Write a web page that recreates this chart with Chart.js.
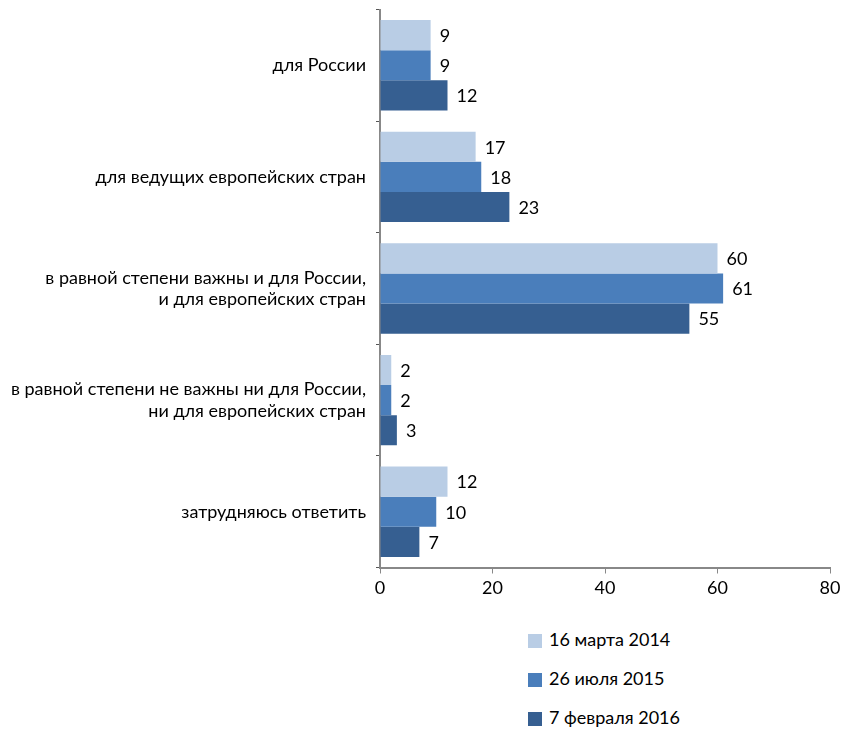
<!DOCTYPE html>
<html>
<head>
<meta charset="utf-8">
<script src="https://cdn.jsdelivr.net/npm/chart.js@4"></script>
<style>
  body { margin: 0; background: #fff; font-family: Lato, sans-serif; }
  #wrap { position: relative; width: 845px; height: 610px; }
  #legend { position: absolute; left: 528px; top: 628px; font-size: 18px; color: #000; }
  #legend div { height: 39px; display: flex; align-items: flex-start; }
  #legend span.box { display: inline-block; width: 14px; height: 14px; margin: 6px 7px 0 0; }
</style>
</head>
<body>
<div id="wrap"><canvas id="chart"></canvas></div>
<div id="legend"></div>
<script>
var categories = [
    'для России',
    'для ведущих европейских стран',
    ['в равной степени важны и для России,', 'и для европейских стран'],
    ['в равной степени не важны ни для России,', 'ни для европейских стран'],
    'затрудняюсь ответить'
];
var seriesNames = ['16 марта 2014', '26 июля 2015', '7 февраля 2016'];
var march2014 = [9, 17, 60, 2, 12];
var july2015 = [9, 18, 61, 2, 10];
var feb2016 = [12, 23, 55, 3, 7];
var xTicks = [0, 20, 40, 60, 80];
var colors = ['#b9cde5', '#4a7ebb', '#365f91'];

var valueLabels = {
    id: 'valueLabels',
    afterDatasetsDraw: function(chart){
        var ctx = chart.ctx;
        ctx.save();
        ctx.font = '18px Lato';
        ctx.fillStyle = '#000';
        ctx.textBaseline = 'middle';
        chart.data.datasets.forEach(function(ds, i){
            chart.getDatasetMeta(i).data.forEach(function(bar, j){
                ctx.fillText(ds.data[j], bar.x + 9, bar.y + 1);
            });
        });
        ctx.restore();
    }
};

var chart = new Chart(document.getElementById('chart'), {
    type: 'bar',
    data: {
        labels: categories,
        datasets: [
            {label: seriesNames[0], data: march2014, backgroundColor: colors[0]},
            {label: seriesNames[1], data: july2015, backgroundColor: colors[1]},
            {label: seriesNames[2], data: feb2016, backgroundColor: colors[2]}
        ]
    },
    options: {
        indexAxis: 'y',
        responsive: true,
        maintainAspectRatio: false,
        animation: false,
        categoryPercentage: 0.81,
        barPercentage: 1,
        layout: {padding: {top: 9.5, right: 15, left: 0, bottom: 0}},
        plugins: {legend: {display: false}, tooltip: {enabled: false}},
        scales: {
            x: {
                min: 0, max: 80,
                afterBuildTicks: function(s){ s.ticks = xTicks.map(function(v){ return {value: v}; }); },
                afterFit: function(s){ s.height = 42.5; },
                grid: {display: true, drawOnChartArea: false, drawTicks: true, tickLength: 6, color: '#888'},
                border: {color: '#888', width: 2},
                ticks: {font: {family: 'Lato', size: 18}, color: '#000', padding: 4}
            },
            y: {
                afterFit: function(s){ s.width = 380; s.paddingTop = 0; s.paddingBottom = 0; },
                grid: {display: true, offset: true, drawOnChartArea: false, drawTicks: true, tickLength: 4, color: '#555'},
                border: {color: '#888', width: 2},
                ticks: {font: {family: 'Lato', size: 18}, color: '#000', padding: 10}
            }
        }
    },
    plugins: [valueLabels]
});

var legendEl = document.getElementById('legend');
chart.data.datasets.forEach(function(ds){
    var row = document.createElement('div');
    row.innerHTML = '<span class="box" style="background:' + ds.backgroundColor + '"></span>' + ds.label;
    legendEl.appendChild(row);
});
</script>
</body>
</html>
